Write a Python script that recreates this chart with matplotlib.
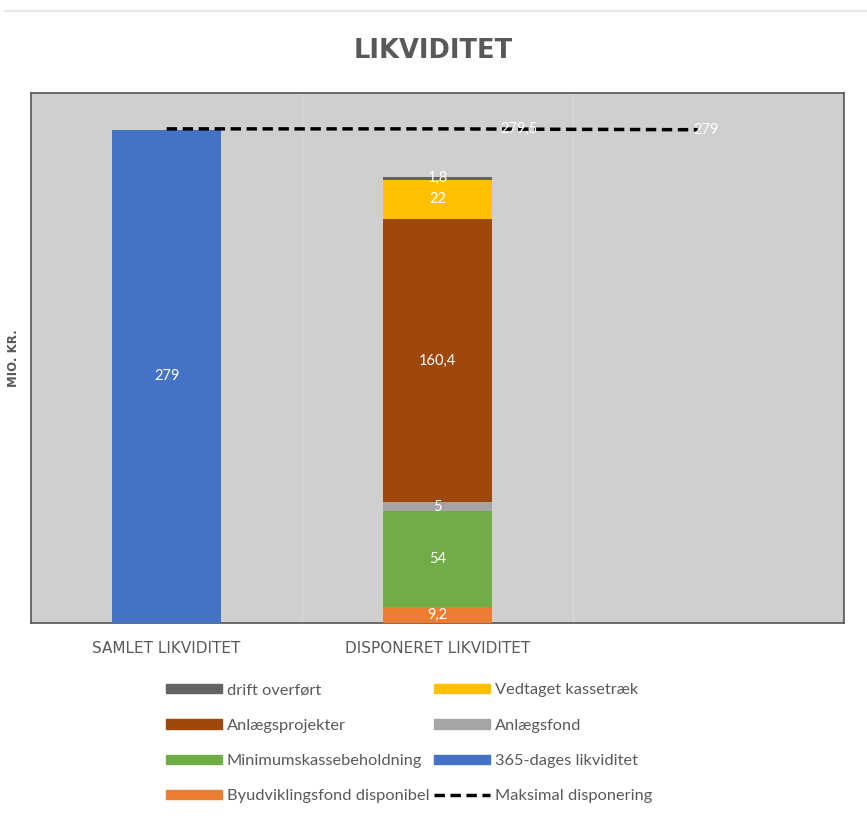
import matplotlib.pyplot as plt
import matplotlib.lines as mlines
import matplotlib.patches as mpatches

plt.rcParams['font.family'] = ['Lato', 'DejaVu Sans']

categories = ["SAMLET LIKVIDITET", "DISPONERET LIKVIDITET", ""]

# stacked series, bottom to top
series_names = ["Byudviklingsfond disponibel", "Minimumskassebeholdning", "Anlægsfond",
                "Anlægsprojekter", "Vedtaget kassetræk", "drift overført"]
series_values = [
    [0, 9.2, 0],
    [0, 54, 0],
    [0, 5, 0],
    [0, 160.4, 0],
    [0, 22, 0],
    [0, 1.8, 0],
]
series_labels = ["9,2", "54", "5", "160,4", "22", "1,8"]
series_colors = ["#ED7D31", "#70AD47", "#A5A5A5", "#9E480E", "#FFC000", "#636363"]

likviditet_365 = [279, 0, 0]
maks_disponering = [279.5, 279.5, 279]
maks_labels = ["", "279,5", "279"]

fig = plt.figure(figsize=(8.67, 8.16), dpi=100)
ax = fig.add_axes([0.036, 0.2365, 0.9375, 0.650])
ax.set_facecolor("#CFCFCF")

x = range(len(categories))
bar_w = 0.4

# blue total bar
ax.bar(x, likviditet_365, width=bar_w, color="#4472C4", zorder=3)
ax.text(0, likviditet_365[0] / 2, "279", color="white", ha="center", va="center", fontsize=10.5, zorder=5)

bottom = [0, 0, 0]
for name, vals, lab, col in zip(series_names, series_values, series_labels, series_colors):
    ax.bar(x, vals, width=bar_w, bottom=bottom, color=col, zorder=3)
    ax.text(1, bottom[1] + vals[1] / 2, lab, color="white", ha="center", va="center",
            fontsize=10.5, zorder=5)
    bottom = [b + v for b, v in zip(bottom, vals)]

# dashed max line
ax.plot([0, 1, 1.96], maks_disponering, color="black", linestyle=(0, (3, 1.6)), linewidth=2.5, zorder=4)
ax.text(1.3, maks_disponering[1], maks_labels[1], color="white", ha="center", va="center", fontsize=10.5, zorder=5)
ax.text(1.99, maks_disponering[2], maks_labels[2], color="white", ha="center", va="center", fontsize=10.5, zorder=5)

ax.set_xlim(-0.5, 2.5)
ax.set_ylim(0, 300)
ax.set_yticks([])
ax.set_xticks(list(x))
ax.set_xticklabels(categories, fontsize=11, color="#595959", family="DejaVu Sans")
ax.tick_params(axis="x", length=0, pad=13)
for b in [0.5, 1.5]:
    ax.axvline(b, color="#DADADA", linewidth=0.8, zorder=1)
for s in ax.spines.values():
    s.set_color("#555555")
    s.set_linewidth(1.2)

ax.set_ylabel("MIO. KR.", fontsize=8.5, color="#595959", labelpad=8, family="DejaVu Sans", fontweight="bold")

fig.text(0.5, 0.938, "LIKVIDITET", ha="center", va="center", fontsize=18.5, fontweight="bold",
         color="#595959", family="DejaVu Sans")
fig.add_artist(mlines.Line2D([0.006, 1.0], [0.987, 0.987], color="#E6E6E6", linewidth=1.5))

def patch(c):
    return mpatches.Patch(color=c)

handles = [
    patch("#636363"), patch("#9E480E"), patch("#70AD47"), patch("#ED7D31"),
    patch("#FFC000"), patch("#A5A5A5"), patch("#4472C4"),
    mlines.Line2D([], [], color="black", linestyle=(0, (3, 1.6)), linewidth=2.5),
]
labels = ["drift overført", "Anlægsprojekter", "Minimumskassebeholdning", "Byudviklingsfond disponibel",
          "Vedtaget kassetræk", "Anlægsfond", "365-dages likviditet", "Maksimal disponering"]
leg = fig.legend(handles, labels, ncol=2, loc="center", bbox_to_anchor=(0.472, 0.089),
                 frameon=False, fontsize=11.8, labelcolor="#595959",
                 handlelength=3.4, handleheight=0.5, handletextpad=0.3,
                 columnspacing=0.3, labelspacing=1.3)

fig.savefig("out.png", dpi=100)
